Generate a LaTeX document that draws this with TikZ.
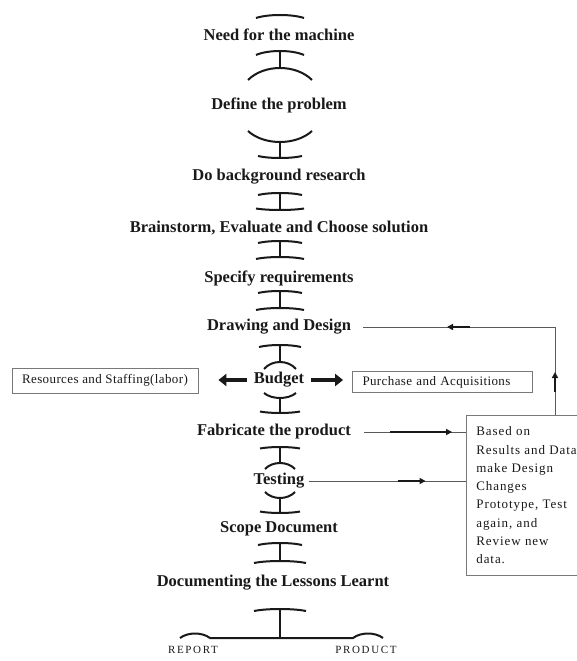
\documentclass[tikz,border=0pt]{standalone}
\usepackage{fontspec}
\setmainfont{Liberation Serif}
\newfontfamily\boxfont[LetterSpace=3]{Liberation Serif}
\newfontfamily\notefont[LetterSpace=7]{Liberation Serif}
\newfontfamily\capfont[LetterSpace=15]{Liberation Serif}
\usepackage{tikz}
\usetikzlibrary{
  arrows.meta,
  calc,
  decorations.markings
}
\definecolor{InkBlack}{RGB}{25, 25, 25}
\definecolor{LineGray}{RGB}{90, 90, 90}
\definecolor{FrameGray}{RGB}{120, 120, 120}
\tikzset{
  stage/.style={font=\fontsize{16.5}{20}\selectfont\bfseries, text=InkBlack, inner sep=4pt, text height=11pt, text depth=3.5pt},
  joint/.style={draw=InkBlack, line width=2pt},
  fat/.style={draw=InkBlack, line width=4pt, -{Triangle[length=8pt,width=12pt]}},
  feed/.style={draw=LineGray, line width=0.8pt},
  flowtip/.style={draw=InkBlack, line width=1.5pt, -{Triangle[length=6pt,width=6pt]}},
  infobox/.style={draw=FrameGray, line width=0.8pt, font=\boxfont\fontsize{13}{15}\selectfont, text=InkBlack},
  pics/dome/.style n args={2}{code={\draw[joint] (-#1,#2) .. controls (-#1/2,-#2/3) and (#1/2,-#2/3) .. (#1,#2);}},
  pics/cup/.style n args={2}{code={\draw[joint] (-#1,-#2) .. controls (-#1/2,#2/3) and (#1/2,#2/3) .. (#1,-#2);}}
}
% stem between two stages on the spine, with a cap at each end
\newcommand{\joint}[6]{%
  \draw[joint] ($(spine |- #1)+(0,#3)$) coordinate (#1-out) -- ($(spine |- #2)+(0,-#4)$) coordinate (#2-in);
  \pic at (#1-out) {#5};
  \pic at (#2-in) {#6};
}

\begin{document}
\begin{tikzpicture}[x=1pt, y=-1pt]
  \useasboundingbox (0,0) rectangle (577,661);
  \clip (0,0) rectangle (577,661);
  \fill[white] (0,0) rectangle (577,661);
  \coordinate (spine) at (280,0);

  \node[stage] (need) at (279,37) {Need for the machine};
  \node[stage] (define) at (279,106) {Define the problem};
  \node[stage] (research) at (279,177) {Do background research};
  \node[stage] (brainstorm) at (279,229) {Brainstorm, Evaluate and Choose solution};
  \node[stage] (specify) at (279,279) {Specify requirements};
  \node[stage] (drawing) at (279,327) {Drawing and Design};
  \node[stage] (budget) at (279,380) {Budget};
  \node[stage] (fabricate) at (274,432) {Fabricate the product};
  \node[stage] (testing) at (279,481) {Testing};
  \node[stage] (scope) at (279,529) {Scope Document};
  \node[stage] (lessons) at (273,583) {Documenting the Lessons Learnt};
  \node[font=\capfont\fontsize{11}{13}\selectfont, text=InkBlack] (report) at (193,650) {REPORT};
  \node[font=\capfont\fontsize{11}{13}\selectfont, text=InkBlack] (product) at (366,650) {PRODUCT};

  \node[infobox, minimum width=186pt, minimum height=25pt] (staffing) at (105,380.5) {Resources and Staffing(labor)};
  \node[infobox, text width=160pt, align=left, inner xsep=10pt, minimum height=21pt] (purchase) at (442.5,382) {Purchase and Acquisitions};
  \node[infobox, font=\notefont\fontsize{13}{18.3}\selectfont, anchor=north west, text width=150pt, align=left, inner xsep=10pt, minimum height=160pt] (notes) at (466,415)
    {Based on\\Results and Data\\make Design\\Changes\\Prototype, Test\\again, and\\Review new\\data.};

  \pic at ($(spine |- need)+(0,-22)$) {dome={24}{3}};
  \joint{need}{define}{14}{38}{dome={24}{4}}{dome={32}{12}}
  \joint{define}{research}{36}{19}{cup={32}{11}}{cup={22}{2}}
  \joint{research}{brainstorm}{16}{19}{dome={22}{2}}{cup={24}{1.5}}
  \joint{brainstorm}{specify}{12}{22}{dome={22}{2}}{dome={24}{2}}
  \joint{specify}{drawing}{12}{19}{dome={22}{2}}{dome={24}{2}}
  \joint{drawing}{budget}{18}{18}{dome={21}{2}}{dome={16}{7}}
  \joint{budget}{fabricate}{18}{19}{cup={16}{5}}{cup={20}{1.5}}
  \joint{fabricate}{testing}{15}{18}{dome={20}{1.5}}{dome={15}{6}}
  \joint{testing}{scope}{17}{16}{cup={15}{6}}{cup={20}{1.5}}
  \joint{scope}{lessons}{14}{22}{dome={22}{2}}{dome={26}{2}}

  % fork to the two outcomes
  \draw[joint] ($(spine |- lessons)+(0,26)$) coordinate (lessons-out) -- ($(lessons-out |- report)+(0,-12)$);
  \pic at (lessons-out) {dome={26}{2}};
  \draw[joint] ($(report)+(-13,-12)$) .. controls ($(report)+(-5,-18)$) and ($(report)+(9,-18)$) .. ($(report)+(17,-12)$)
    -- ($(product)+(-13,-12)$) .. controls ($(product)+(-5,-18)$) and ($(product)+(9,-18)$) .. ($(product)+(17,-12)$);

  \draw[fat, shorten <=3pt, shorten >=20pt] (budget.west) -- (budget.west -| staffing.east);
  \draw[fat, shorten <=3pt, shorten >=9pt] (budget.east) -- (budget.east -| purchase.west);

  \draw[feed, postaction={decorate}, decoration={markings, mark=at position 88pt with {\draw[flowtip] (-62pt,0pt) -- (0pt,0pt);}}]
    ([xshift=9pt]fabricate.east) -- (fabricate.east -| notes.west);
  \draw[feed, postaction={decorate}, decoration={markings, mark=at position 117pt with {\draw[flowtip] (-28pt,0pt) -- (0pt,0pt);}}]
    (testing.east) -- (testing.east -| notes.west);
  \draw[feed, postaction={decorate}, decoration={markings,
      mark=at position 43pt with {\draw[flowtip] (-20pt,0pt) -- (0pt,0pt);},
      mark=at position 196pt with {\draw[flowtip] (-23pt,0pt) -- (0pt,0pt);}}]
    ($(notes.north west)+(89,0)$) |- ([xshift=8pt]drawing.east);
\end{tikzpicture}
\end{document}
